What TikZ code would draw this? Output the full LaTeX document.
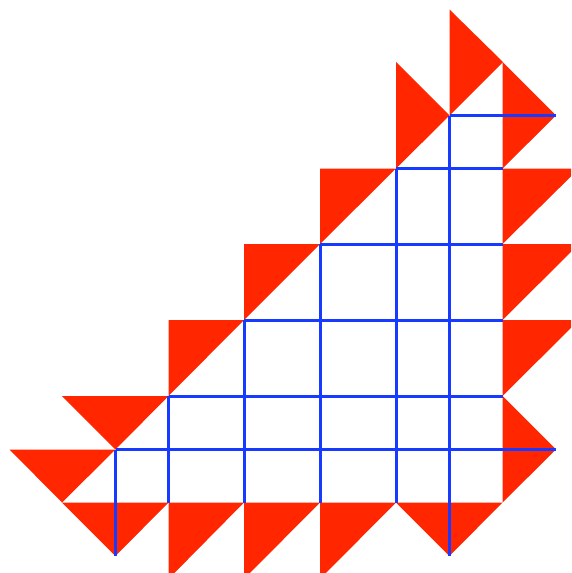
\documentclass[tikz,border=0pt]{standalone}
\definecolor{tri}{RGB}{255,38,0}
\definecolor{gridblue}{RGB}{22,58,255}
\tikzset{
  redtri/.style={fill=tri,draw=none},
  gridline/.style={draw=gridblue,line width=3pt,line cap=butt}
}
\begin{document}
\begin{tikzpicture}[x=1pt,y=-1pt]
\useasboundingbox (0,0) rectangle (571,573);
\clip (0,0) rectangle (571,573);
\def\ga{115.5}\def\gb{168.5}\def\gc{244}\def\gd{320}\def\ge{396}\def\gf{449.5}
\def\E{502.5}\def\A{556}\def\F{579}
% top
\fill[redtri] (\gf,9.5) -- (\gf,\ga) -- (503,62) -- cycle;
\fill[redtri] (\ge,62) -- (\ge,\gb) -- (\gf,\ga) -- cycle;
\fill[redtri] (\E,62) -- (\E,\gb) -- (\A,\ga) -- cycle;
% right column
\fill[redtri] (\E,\gb) -- (\F,\gb) -- (\E,\gc) -- cycle;
\fill[redtri] (\E,\gc) -- (\F,\gc) -- (\E,\gd) -- cycle;
\fill[redtri] (\E,\gd) -- (\F,\gd) -- (\E,\ge) -- cycle;
\fill[redtri] (\E,\ge) -- (\E,\E) -- (\A,\gf) -- cycle;
% bottom row
\fill[redtri] (\gb,\E) -- (\gc,\E) -- (\gb,\F) -- cycle;
\fill[redtri] (\gc,\E) -- (\gd,\E) -- (\gc,\F) -- cycle;
\fill[redtri] (\gd,\E) -- (\ge,\E) -- (\gd,\F) -- cycle;
\fill[redtri] (\ge,\E) -- (\E,\E) -- (\gf,\A) -- cycle;
\fill[redtri] (62,\E) -- (\gb,\E) -- (\ga,\A) -- cycle;
% staircase
\fill[redtri] (\gd,\gb) -- (\ge,\gb) -- (\gd,\gc) -- cycle;
\fill[redtri] (\gc,\gc) -- (\gd,\gc) -- (\gc,\gd) -- cycle;
\fill[redtri] (\gb,\gd) -- (\gc,\gd) -- (\gb,\ge) -- cycle;
\fill[redtri] (62,\ge) -- (\gb,\ge) -- (\ga,\gf) -- cycle;
\fill[redtri] (9.5,\gf) -- (\ga,\gf) -- (62,\E) -- cycle;
% grid
\draw[gridline] (\ga,\gf) -- (\ga,\A);
\draw[gridline] (\gb,\ge) -- (\gb,\E);
\draw[gridline] (\gc,\gd) -- (\gc,\E);
\draw[gridline] (\gd,\gc) -- (\gd,\E);
\draw[gridline] (\ge,\gb) -- (\ge,\E);
\draw[gridline] (\gf,\ga) -- (\gf,\A);
\draw[gridline] (\gf,\ga) -- (\A,\ga);
\draw[gridline] (\ge,\gb) -- (\E,\gb);
\draw[gridline] (\gd,\gc) -- (\E,\gc);
\draw[gridline] (\gc,\gd) -- (\E,\gd);
\draw[gridline] (\gb,\ge) -- (\E,\ge);
\draw[gridline] (\ga,\gf) -- (\A,\gf);
\end{tikzpicture}
\end{document}
